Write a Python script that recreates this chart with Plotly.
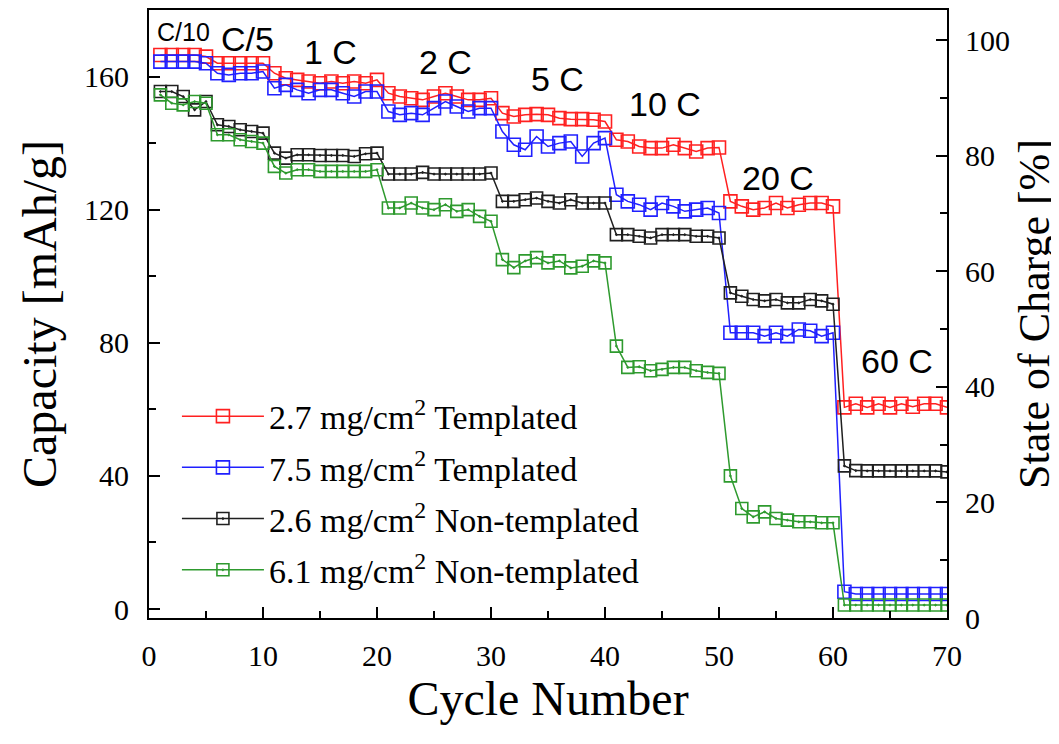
import plotly.graph_objects as go

cycles = list(range(1, 71))

red_27_templated = [
    166.5, 166.5, 166.5, 166.5, 166,
    164, 164, 164, 164, 164,
    161, 159.5, 159, 158.5, 158, 158.5, 158, 158.5, 158, 159,
    155, 154, 153.5, 153, 154, 155, 154, 153, 153, 153.5,
    149, 148, 148.5, 148.7, 148.5, 147.5, 147.2, 147.2, 147, 146.5,
    141, 140.5, 139, 138.5, 138.5, 139.5, 138.5, 137.5, 138.5, 138.7,
    122.5, 121, 120, 120.5, 122, 120.5, 121.5, 122, 122, 121,
    60.6, 61.7, 60.6, 61.7, 60.6, 61.7, 60.8, 61.7, 61.7, 60.6,
]

blue_75_templated = [
    164.5, 164.5, 164.5, 164.5, 164,
    161, 160.5, 161, 161, 161.5,
    156.5, 157.5, 156, 155, 156, 156, 155, 154, 155.5, 155.5,
    149.5, 148.5, 149, 148.5, 150.5, 152.5, 151, 149.5, 150.5, 150.5,
    143.5, 139.5, 138, 142, 139, 140, 140.5, 136, 140, 141.5,
    124.5, 122.5, 121.5, 120, 122, 121, 119.5, 120, 120.5, 119,
    83, 83, 83, 82, 83, 82, 84, 83.6, 82, 83,
    5.2, 4.5, 4.5, 4.5, 4.5, 4.5, 4.5, 4.5, 4.5, 4.5,
]

black_26_nontemplated = [
    155.5, 155.5, 154, 150, 152.5,
    145.5, 145, 144, 143.5, 143,
    137, 135.5, 136.5, 136.5, 136.3, 136.3, 136.3, 136, 136.8, 137,
    130.7, 130.7, 130.7, 131.2, 130.7, 130.7, 130.7, 130.7, 130.7, 131,
    122.5, 122.5, 123, 123.5, 122.5, 122, 123, 122, 122, 122,
    112.5, 112.5, 112, 111.5, 112.5, 112.5, 112.5, 112, 112, 111.5,
    95, 94, 93, 92.6, 93, 92, 92, 93, 92.6, 91.6,
    43, 41.6, 41.5, 41.5, 41.5, 41.5, 41.5, 41.5, 41.5, 41.2,
]

green_61_nontemplated = [
    154.5, 152, 151.5, 152.5, 152,
    142.5, 142.5, 141, 140.5, 140,
    133, 131, 132, 132, 131.5, 131.5, 131.5, 131.5, 131.5, 132,
    120.5, 120.5, 122, 120.5, 120, 121.5, 119.5, 120, 118, 116.5,
    105, 102.6, 104.6, 105.6, 104, 104.6, 102.5, 103, 104.6, 104,
    79, 72.6, 72.8, 71.6, 72, 72.6, 72.6, 71.6, 71.1, 70.8,
    40, 30.2, 27.7, 29.2, 27.2, 26.7, 26.2, 26.2, 25.9, 25.9,
    1.2, 1.2, 1.2, 1.2, 1.2, 1.2, 1.2, 1.2, 1.2, 1.2,
]

series_names = [
    "2.7 mg/cm<sup>2</sup> Templated",
    "7.5 mg/cm<sup>2</sup> Templated",
    "2.6 mg/cm<sup>2</sup> Non-templated",
    "6.1 mg/cm<sup>2</sup> Non-templated",
]
series_values = [red_27_templated, blue_75_templated, black_26_nontemplated, green_61_nontemplated]
series_colors = ["#ff2020", "#2020ff", "#202020", "#2e9a2e"]
series_symbols = ["square-open", "square-open", "square-open-dot", "square-open-dot"]
series_sizes = [13, 13, 12, 12]

rate_labels = ["C/10", "C/5", "1 C", "2 C", "5 C", "10 C", "20 C", "60 C"]
rate_label_x = [3.0, 8.6, 15.9, 26.0, 35.8, 45.3, 55.2, 65.6]
rate_label_y = [173.5, 171.4, 167.5, 164.5, 159.4, 151.9, 129.4, 74.6]
rate_label_sizes = [25, 34, 34, 34, 34, 34, 34, 34]

x_ticks = [0, 10, 20, 30, 40, 50, 60, 70]
left_ticks = [0, 40, 80, 120, 160]
right_ticks = [0, 20, 40, 60, 80, 100]

fig = go.Figure()
for name, vals, col, sym, sz in zip(series_names, series_values, series_colors, series_symbols, series_sizes):
    fig.add_trace(go.Scatter(
        x=cycles, y=vals, name=name, mode="lines+markers",
        line=dict(color=col, width=1.5),
        marker=dict(symbol=sym, size=sz, color=col, line=dict(color=col, width=1.6)),
        legendgroup=name,
    ))

# attach the right-hand State-of-Charge axis so it is drawn
fig.add_trace(go.Scatter(x=[None], y=[None], yaxis="y2", showlegend=False, hoverinfo="skip"))

serif = "Liberation Serif, Times New Roman, serif"
sans = "Liberation Sans, Arial, sans-serif"

for t, xv, yv, fs in zip(rate_labels, rate_label_x, rate_label_y, rate_label_sizes):
    fig.add_annotation(x=xv, y=yv, xref="x", yref="y", text=t, showarrow=False,
                       font=dict(family=sans, size=fs, color="black"))

axis_common = dict(showgrid=False, zeroline=False, showline=True, linecolor="black",
                   linewidth=2, ticks="inside", tickcolor="black", tickwidth=2, ticklen=11,
                   tickfont=dict(family=serif, size=30, color="black"))

fig.update_layout(
    width=1051, height=736,
    margin=dict(l=141, r=112, t=0, b=126),
    paper_bgcolor="white", plot_bgcolor="white",
    showlegend=True,
    legend=dict(x=0.035, y=0.379, xanchor="left", yanchor="top",
                font=dict(family=serif, size=34, color="black"),
                bgcolor="rgba(0,0,0,0)", itemwidth=82, tracegroupgap=4),
    xaxis=dict(range=[0, 70], tickvals=x_ticks, mirror=True,
               minor=dict(ticks="inside", dtick=5, ticklen=7, tickwidth=2, tickcolor="black"),
               title=dict(text="Cycle Number", font=dict(family=serif, size=48, color="black"), standoff=10),
               ticklabelstandoff=10,
               **axis_common),
    yaxis=dict(range=[-2.7, 180], tickvals=left_ticks,
               minor=dict(ticks="inside", tickvals=[20, 60, 100, 140], ticklen=7, tickwidth=2, tickcolor="black"),
               title=dict(text="Capacity [mAh/g]", font=dict(family=serif, size=48, color="black"), standoff=12),
               ticklabelstandoff=12,
               **axis_common),
    yaxis2=dict(range=[0, 105.2], overlaying="y", side="right", anchor="x", tickvals=right_ticks,
                minor=dict(ticks="inside", tickvals=[10, 30, 50, 70, 90], ticklen=7, tickwidth=2, tickcolor="black"),
                title=dict(text="State of Charge [%]", font=dict(family=serif, size=44, color="black"), standoff=14),
                ticklabelstandoff=10,
                **axis_common),
)

fig.write_html("out.html")
